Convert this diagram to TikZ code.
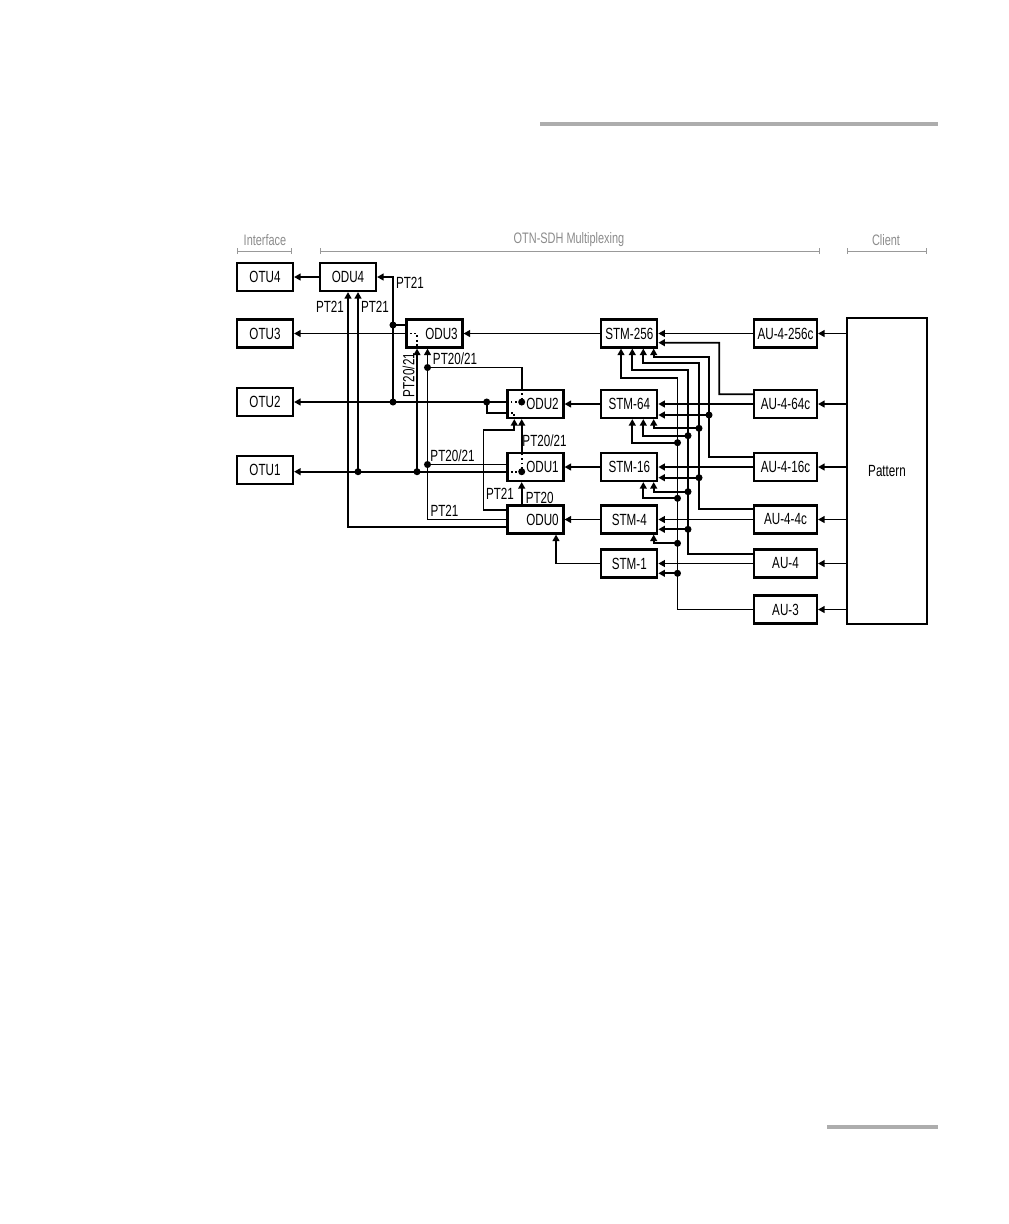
\documentclass[tikz,border=0pt]{standalone}
\usepackage{fontspec}
\setmainfont{Liberation Sans}[FakeStretch=0.72]
\usetikzlibrary{arrows.meta,positioning,calc}
\newcommand{\odutext}[1]{\hspace*{10pt}#1}
\tikzset{
  block/.style={draw, rectangle, line width=1.5pt, minimum height=0.7cm, minimum width=1.4cm, inner sep=0pt, font=\fontsize{11.5}{12}\selectfont},
  aublock/.style={block, minimum width=1.575cm},
  arr/.style={-{Triangle[length=4.6pt,width=4.8pt]}},
  junction/.style={circle, fill, inner sep=0pt, minimum size=5pt},
  thru/.style={dotted, line width=1.2pt},
  lbl/.style={font=\fontsize{11.5}{12}\selectfont, inner sep=0pt},
  hdr/.style={text=black!45, font=\fontsize{10.8}{12}\selectfont},
  bracket/.style={{Bar[width=4.2pt]}-{Bar[width=4.2pt]}, draw=black!40, line width=0.7pt},
  pagerule/.style={draw=black!32, line width=2.4pt},
}
\begin{document}
\begin{tikzpicture}[x=0.025cm, y=-0.025cm, line width=1.3pt]
\useasboundingbox (0,0) rectangle (1008,1224);
\fill[white] (0,0) rectangle (1008,1224);
% page rules
\draw[pagerule] (540,124) -- (938,124);
\draw[pagerule] (827,1127) -- (938,1127);
% headings
\node[hdr] (hIf) at (265,240) {Interface};
\node[hdr] (hMx) at (569,240) {OTN-SDH Multiplexing};
\node[hdr] (hCl) at (886,240) {Client};
\draw[bracket] (237,251) -- (292,251);
\draw[bracket] (320,251) -- (820,251);
\draw[bracket] (847,251) -- (927,251);
% interface
\node[block] (OTU4) at (265,277) {OTU4};
\node[block] (OTU3) at (265,333.5) {OTU3};
\node[block] (OTU2) at (265,402) {OTU2};
\node[block] (OTU1) at (265,470) {OTU1};
% ODU layer
\node[block] (ODU4) at (348,277) {ODU4};
\node[block] (ODU3) at (434.5,333.5) {\odutext{ODU3}};
\node[block] (ODU2) at (535.5,404) {\odutext{ODU2}};
\node[block] (ODU1) at (535.5,467) {\odutext{ODU1}};
\node[block] (ODU0) at (535.5,519.5) {\odutext{ODU0}};
% STM layer
\node[block] (STM256) at (629.3,333.5) {STM-256};
\node[block] (STM64) at (629.3,404) {STM-64};
\node[block] (STM16) at (629.3,467) {STM-16};
\node[block] (STM4) at (629.3,519.5) {STM-4};
\node[block] (STM1) at (629.3,563.5) {STM-1};
% AU layer
\node[aublock] (AU256) at (785.5,333.5) {AU-4-256c};
\node[aublock] (AU64) at (785.5,404) {AU-4-64c};
\node[aublock] (AU16) at (785.5,467) {AU-4-16c};
\node[aublock] (AU4c) at (785.5,519.5) {AU-4-4c};
\node[aublock] (AU4) at (785.5,563.5) {AU-4};
\node[aublock] (AU3) at (785.5,609.5) {AU-3};
\node[block, minimum width=2cm, minimum height=7.65cm] (Pattern) at (887,471) {Pattern};
% columns
\coordinate (vA) at (348,0);
\coordinate (vB) at (358,0);
\coordinate (vE) at (427.5,0);
\coordinate (vH) at (521.7,0);
\coordinate (k1) at (621,0);
\coordinate (k2) at (632.3,0);
\coordinate (k3) at (643.3,0);
\coordinate (k4) at (653.7,0);
% junctions
\node[junction] (j3) at (393,325) {};
\node[junction] (j2) at (393,402) {};
\node[junction] (j2b) at (486.7,402) {};
\node[junction] (j2c) at (521.7,402) {};
\node[junction] (j2d) at (427.5,367.5) {};
\node[junction] (j1) at (521.7,471.7) {};
\node[junction] (j1a) at (358,471.7) {};
\node[junction] (j1b) at (417,471.7) {};
\node[junction] (j1c) at (427.5,464.5) {};
\coordinate (cB) at (514.3,412.7);
\coordinate (cF) at (483.5,430);
% ODU -> OTU
\draw[arr] (ODU4) -- (OTU4);
\draw[arr] (ODU3) -- (OTU3);
\draw[arr] (ODU2.west |- j2) -- (OTU2.east);
\draw[arr] (ODU1.west |- j1) -- (OTU1.east |- j1);
% paths through the ODU boxes
\draw[thru] (ODU3.west) -- (ODU3.west -| j1b) -- (ODU3.south -| j1b);
\draw[thru] (ODU2.north -| vH) -- (j2c.center) -- (ODU2.west |- j2c);
\draw[thru] (ODU2.west |- cB) -- (cB) -- (ODU2.south -| cB);
\draw[thru] (ODU1.west |- j1) -- (j1.center) -- (ODU1.north -| j1);
% into ODU4
\draw[arr] (j2.center) -- (j3.center) -- (j2 |- ODU4) -- (ODU4.east);
\draw (ODU3.west |- j3) -- (j3.center);
\draw[arr] (j1a.center) -- (ODU4.south -| vB);
\draw[arr] ($(ODU0.west)+(0,7.5)$) -| (ODU4.south -| vA);
% into ODU3
\draw[arr] (j1b.center) -- (ODU3.south -| j1b);
\draw[arr] (ODU0.west) -- (vE |- ODU0) -- (ODU3.south -| vE);
\draw (ODU2.north -| vH) -- (vH |- j2d) -- (j2d.center);
\draw (ODU1.west |- j1c) -- (j1c.center);
% into ODU2, ODU1
\draw (ODU2.west |- cB) -- (j2b |- cB) -- (j2b.center);
\draw[arr] ($(ODU0.west)+(0,-9.5)$) -| (cF) -| (ODU2.south -| cB);
\draw[arr] (ODU1.north -| vH) -- (ODU2.south -| vH);
\draw[arr] (ODU0.north -| vH) -- (ODU1.south -| vH);
% payload types
\node[lbl] (lbA) at (410,283) {PT21};
\node[lbl] (lbB) at (330,306.7) {PT21};
\node[lbl] (lbC) at (375,306.7) {PT21};
\node[lbl, rotate=90] (lbD) at (408.5,375) {PT20/21};
\node[lbl] (lbE) at (455,358.7) {PT20/21};
\node[lbl] (lbF) at (544.5,441) {PT20/21};
\node[lbl] (lbG) at (452.5,456) {PT20/21};
\node[lbl] (lbH) at (500,494) {PT21};
\node[lbl] (lbI) at (539.7,497.5) {PT20};
\node[lbl] (lbJ) at (444.5,511) {PT21};
% STM -> ODU
\draw[arr] (STM256) -- (ODU3);
\draw[arr] (STM64) -- (ODU2);
\draw[arr] (STM16) -- (ODU1);
\draw[arr] (STM4) -- (ODU0);
\draw[arr] (STM1.west) -| ($(ODU0.south)+(20.5,0)$);
% AU -> STM
\draw[arr] (AU256) -- (STM256);
\draw[arr] (AU64) -- (STM64);
\draw[arr] (AU16) -- (STM16);
\draw[arr] (AU4c) -- (STM4);
\draw[arr] (AU4) -- (STM1);
\draw[arr] ($(AU64.west)+(0,-9.7)$) -| (719.3,342.7) -- ($(STM256.east)+(0,9.2)$);
\draw[arr] ($(AU16.west)+(0,-10.3)$) -| (709,357.3) -| (STM256.south -| k4);
\draw[arr] ($(AU4c.west)+(0,-10.5)$) -| (699,363.3) -| (STM256.south -| k3);
\draw[arr] ($(AU4.west)+(0,-9.2)$) -| (688,370) -| (STM256.south -| k2);
\draw[arr] (AU3.west) -| (677.5,378.3) -| (STM256.south -| k1);
% branches of the AU buses
\node[junction] (d16a) at (709,415) {};
\node[junction] (d4ca) at (699,428.3) {};
\node[junction] (d4cb) at (699,477.7) {};
\node[junction] (d4a) at (688,435.7) {};
\node[junction] (d4b) at (688,491.7) {};
\node[junction] (d4c) at (688,529.3) {};
\node[junction] (d3a) at (677.5,442.7) {};
\node[junction] (d3b) at (677.5,498.3) {};
\node[junction] (d3c) at (677.5,543.3) {};
\node[junction] (d3d) at (677.5,573.3) {};
\draw[arr] (d16a.center) -- (STM64.east |- d16a);
\draw[arr] (d4ca.center) -| (STM64.south -| k4);
\draw[arr] (d4cb.center) -- (STM16.east |- d4cb);
\draw[arr] (d4a.center) -| (STM64.south -| k3);
\draw[arr] (d4b.center) -| (STM16.south -| k4);
\draw[arr] (d4c.center) -- (STM4.east |- d4c);
\draw[arr] (d3a.center) -| (STM64.south -| k2);
\draw[arr] (d3b.center) -| (STM16.south -| k3);
\draw[arr] (d3c.center) -| (STM4.south -| k4);
\draw[arr] (d3d.center) -- (STM1.east |- d3d);
% client
\foreach \a in {AU256,AU64,AU16,AU4c,AU4,AU3}
  \draw[arr] (Pattern.west |- \a) -- (\a.east);
\end{tikzpicture}
\end{document}
